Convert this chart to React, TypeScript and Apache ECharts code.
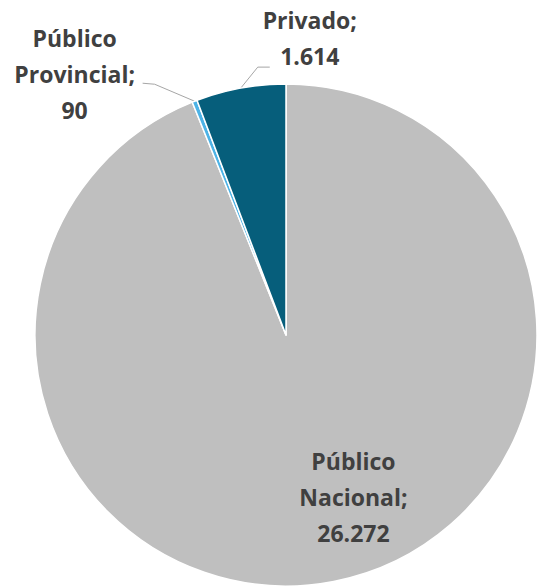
import React, { useEffect, useRef } from "react";
import * as echarts from "echarts";

const categories = ["Público Nacional", "Público Provincial", "Privado"];
const values = [26272, 90, 1614];
const valueLabels = ["26.272", "90", "1.614"];
const labelTexts = ["Público\nNacional;", "Público\nProvincial;", "Privado;"];
const colors = ["#BFBFBF", "#4DB3E6", "#065E7B"];

export default function App() {
  const ref = useRef<HTMLDivElement>(null);
  useEffect(() => {
    if (!ref.current) return;
    const chart = echarts.init(ref.current, undefined, { renderer: "svg" });
    const labelFont = {
      fontFamily: "'Open Sans', 'Noto Sans', sans-serif",
      fontWeight: 700 as const,
      fontSize: 23,
      color: "#404040",
      lineHeight: 36,
      align: "center" as const,
    };
    chart.setOption({
      animation: false,
      backgroundColor: "#ffffff",
      series: [
        {
          type: "pie",
          center: [286, 335],
          radius: [0, 251],
          startAngle: 90,
          clockwise: true,
          avoidLabelOverlap: false,
          itemStyle: { borderColor: "#ffffff", borderWidth: 1.5 },
          labelLine: {
            show: true,
            length: 20,
            length2: 12,
            lineStyle: { color: "#A6A6A6", width: 1 },
          },
          data: categories.map((name, i) => ({
            name,
            value: values[i],
            itemStyle: { color: colors[i] },
            label:
              i === 0
                ? {
                    show: true,
                    position: "inside",
                    rotate: 0,
                    offset: [43, 36],
                    formatter: () => labelTexts[i] + "\n" + valueLabels[i],
                    ...labelFont,
                  }
                : {
                    show: true,
                    position: "outside",
                    formatter: () => labelTexts[i] + "\n" + valueLabels[i],
                    ...labelFont,
                  },
            labelLine: { show: i !== 0 },
          })),
          labelLayout: (params: any) => {
            const pts = params.labelLinePoints;
            if (!pts) return {};
            const p0 = pts[0];
            if (params.dataIndex === 1) {
              return {
                x: p0[0] - 120,
                y: p0[1] - 27,
                align: "center",
                verticalAlign: "middle",
                labelLinePoints: [
                  [p0[0], p0[1]],
                  [p0[0] - 40, p0[1] - 17],
                  [p0[0] - 52, p0[1] - 18],
                ],
              };
            }
            if (params.dataIndex === 2) {
              return {
                x: p0[0] + 69,
                y: p0[1] - 50,
                align: "center",
                verticalAlign: "middle",
                labelLinePoints: [
                  [p0[0], p0[1]],
                  [p0[0] + 17, p0[1] - 21],
                  [p0[0] + 29, p0[1] - 21],
                ],
              };
            }
            return {};
          },
        },
      ],
    });
    return () => chart.dispose();
  }, []);
  return (
    <div
      ref={ref}
      style={{ position: "absolute", left: 0, top: 0, width: 538, height: 587 }}
    />
  );
}
